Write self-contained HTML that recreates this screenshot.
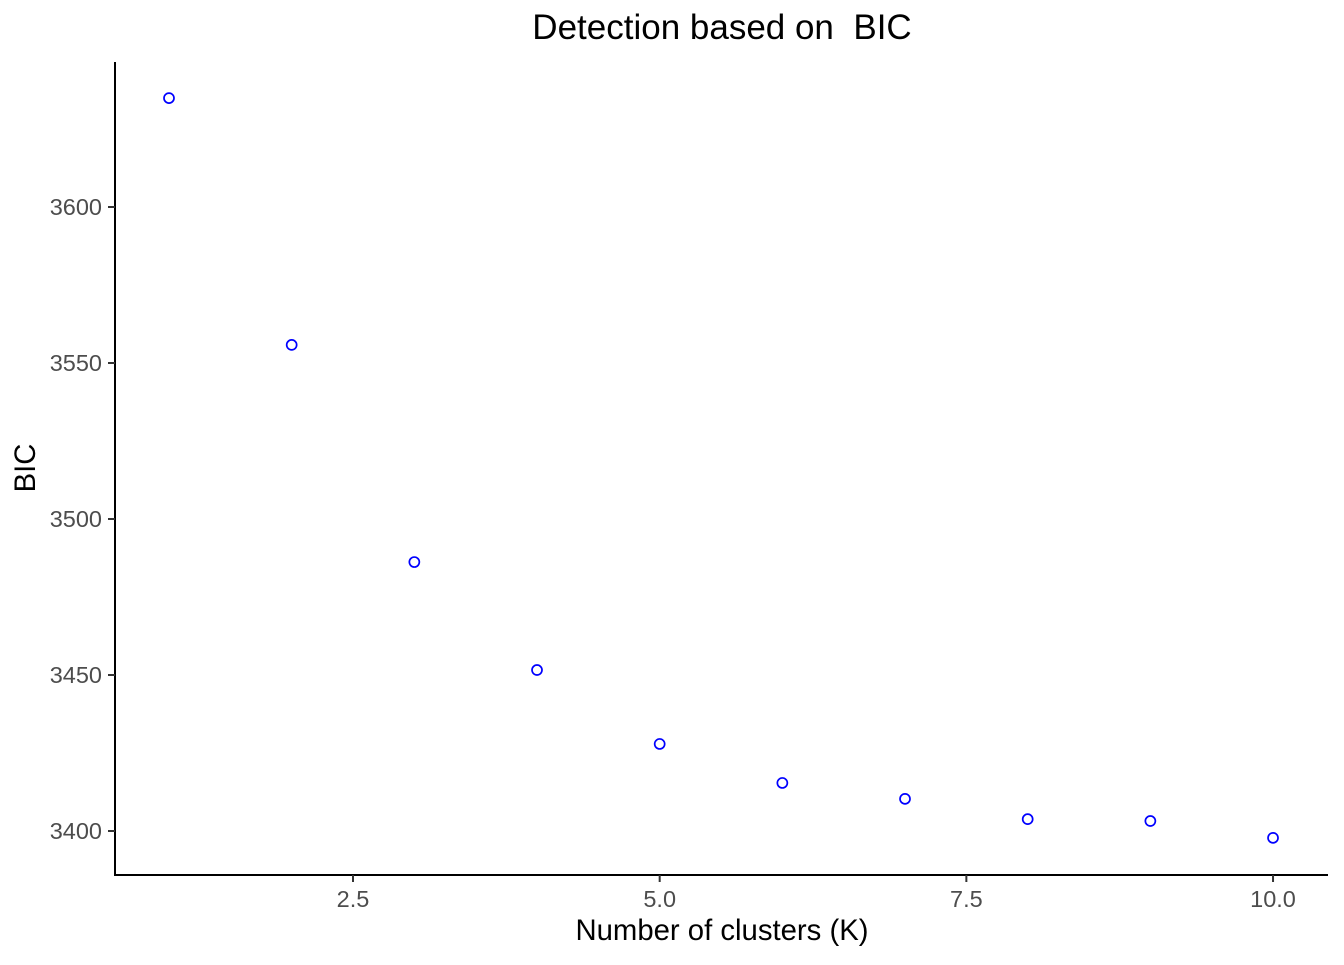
<!DOCTYPE html>
<html><head><meta charset="utf-8"><style>
body{margin:0;background:#fff;}
svg text{font-family:"Liberation Sans",Arial,sans-serif;white-space:pre;}
</style></head><body>
<svg id="chart" width="1344" height="960">
<text x="722" y="39" text-anchor="middle" font-size="35" fill="#000" xml:space="preserve">Detection based on  BIC</text>
<text x="722" y="940" text-anchor="middle" font-size="29.3" fill="#000">Number of clusters (K)</text>
<text transform="translate(35,468) rotate(-90)" text-anchor="middle" font-size="29.3" fill="#000">BIC</text>
<line x1="115" y1="62" x2="115" y2="876" stroke="#000" stroke-width="2"/>
<line x1="114" y1="875" x2="1328" y2="875" stroke="#000" stroke-width="2"/>
<g id="ticks"></g><g id="points"></g>
</svg>
<script>
const ks=[1,2,3,4,5,6,7,8,9,10];
const bic=[3634.9,3555.8,3486.2,3451.6,3427.9,3415.4,3410.3,3403.8,3403.2,3397.8];
const xTicks=[2.5,5.0,7.5,10.0];
const xTickLabels=["2.5","5.0","7.5","10.0"];
const yTicks=[3400,3450,3500,3550,3600];
const yTickLabels=["3400","3450","3500","3550","3600"];
const NS="http://www.w3.org/2000/svg";
const xs=v=>169+(v-1)*122.67;
const ys=v=>831-(v-3400)*3.12;
const tg=document.getElementById('ticks'),pg=document.getElementById('points');
function mk(t,a,p){const e=document.createElementNS(NS,t);for(const k in a)e.setAttribute(k,a[k]);p.appendChild(e);return e;}
xTicks.forEach((v,i)=>{
 const l=mk('line',{x1:xs(v),x2:xs(v),y1:875,y2:882,stroke:'#333','stroke-width':2},tg);
 
 
 const t=mk('text',{x:xs(v),y:907,'text-anchor':'middle','font-size':23.5,fill:'#4d4d4d'},tg);
 t.textContent=xTickLabels[i];
 
 
});
yTicks.forEach((v,i)=>{
 const l=mk('line',{x1:108,x2:115,y1:ys(v),y2:ys(v),stroke:'#333','stroke-width':2},tg);
 
 
 const t=mk('text',{x:102,y:ys(v)+8,'text-anchor':'end','font-size':23.5,fill:'#4d4d4d'},tg);
 t.textContent=yTickLabels[i];
 
 
});
ks.forEach((k,i)=>{
 const c=mk('circle',{cx:xs(k),cy:ys(bic[i]),r:5,fill:'none',stroke:'#0000ff','stroke-width':1.7},pg);
 
 
});
</script>
</body></html>
